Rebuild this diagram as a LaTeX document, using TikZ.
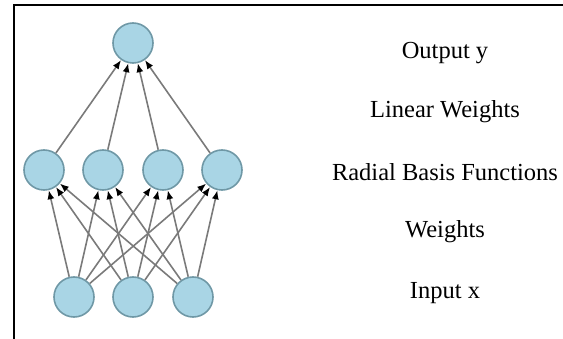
\documentclass[tikz,border=0pt]{standalone}
\usepackage{fontspec}
\setmainfont{Liberation Serif}
\usetikzlibrary{arrows.meta}
\definecolor{nodeblue}{HTML}{A9D5E5}
\definecolor{nodeedge}{HTML}{6F98A6}
\definecolor{linkgray}{HTML}{7A7A7A}
\tikzset{
	neuron/.style={circle, draw=nodeedge, fill=nodeblue, line width=1.6pt, minimum size=40pt, inner sep=0pt},
	link/.style={draw=linkgray, line width=1.6pt, -{Latex[black,length=9pt,width=7pt]}},
	layername/.style={font=\fontsize{24.5}{28}\selectfont}
}
\begin{document}
\begin{tikzpicture}[x=1pt,y=-1pt]
	\useasboundingbox (0,0) rectangle (563,339);
	\draw [line width=1.6pt] (563,5) -- (14,5) -- (14,339);
	
	% nodes
	\node[neuron] (out) at (133,43) {};
	\foreach \i/\x in {1/44,2/103,3/163,4/222}{
		\node[neuron] (rbf\i) at (\x,170) {};
	}
	\foreach \i/\x in {1/74,2/133,3/193}{
		\node[neuron] (in\i) at (\x,297) {};
	}
	
	% connections
	\foreach \j in {1,...,4}{
		\foreach \i in {1,2,3}{
			\draw[link] (in\i) -- (rbf\j);
		}
		\draw[link] (rbf\j) -- (out);
	}
	
	% labels
	\node[layername] (lout) at (445,53) {Output y};
	\node[layername] (llin) at (445,112) {Linear Weights};
	\node[layername] (lrbf) at (445,172) {Radial Basis Functions};
	\node[layername] (lw) at (445,232) {Weights};
	\node[layername] (lin) at (445,293) {Input x};
\end{tikzpicture}
\end{document}
